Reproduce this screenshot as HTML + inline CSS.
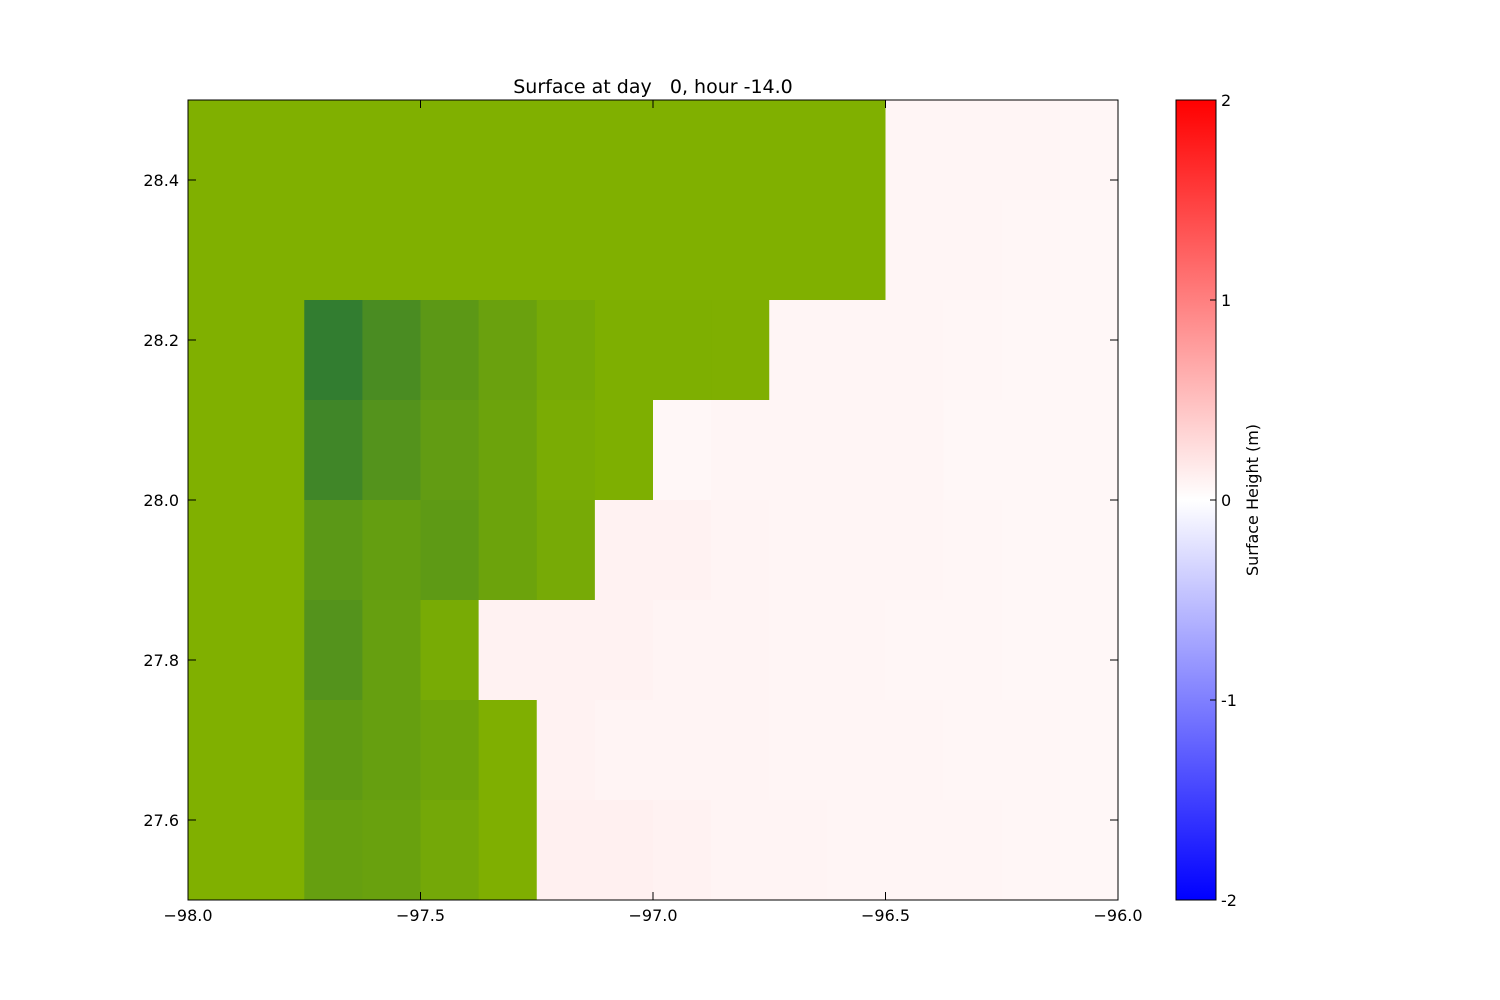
<!DOCTYPE html>
<html><head><meta charset="utf-8"><style>
html,body{margin:0;padding:0;background:#fff;}
svg{display:block;font-family:"DejaVu Sans","Liberation Sans",sans-serif;}
#title{white-space:pre;}
</style></head><body>
<svg id="chart" width="1500" height="1000" viewBox="0 0 1500 1000" xmlns="http://www.w3.org/2000/svg">
<defs>
<linearGradient id="cbgrad" x1="0" y1="1" x2="0" y2="0">
<stop offset="0" stop-color="#0000ff"/><stop offset="0.5" stop-color="#ffffff"/><stop offset="1" stop-color="#ff0000"/>
</linearGradient>
</defs>
<g id="cells"></g>
<rect x="188" y="100" width="930" height="800" fill="none" stroke="#000" stroke-width="1"/>
<g id="axes"></g>
<text id="title" x="653" y="93" font-size="19" text-anchor="middle" xml:space="preserve">Surface at day   0, hour -14.0</text>
<rect x="1176" y="100" width="40" height="800" fill="url(#cbgrad)" stroke="#000" stroke-width="1"/>
<g id="cbticks"></g>
<text transform="translate(1258,500) rotate(-90)" font-size="16" text-anchor="middle">Surface Height (m)</text>
</svg>
<script>
// land shade (0 = light green, 1 = dark green); null = water
const landShade = [
 [0,0,0,0,0,0,0,0,0,0,0,0,null,null,null,null],
 [0,0,0,0,0,0,0,0,0,0,0,0,null,null,null,null],
 [0,0,0.95,0.66,0.44,0.27,0.12,0.02,0.02,0.01,null,null,null,null,null,null],
 [0,0,0.78,0.54,0.37,0.24,0.07,0.02,null,null,null,null,null,null,null,null],
 [0,0,0.45,0.34,0.41,0.24,0.11,null,null,null,null,null,null,null,null,null],
 [0,0,0.54,0.32,0.10,null,null,null,null,null,null,null,null,null,null,null],
 [0,0,0.40,0.32,0.22,0.01,null,null,null,null,null,null,null,null,null,null],
 [0,0,0.32,0.28,0.15,0.01,null,null,null,null,null,null,null,null,null,null]
];
// surface height (m) for water cells
const surfaceHeight = [
 [0,0,0,0,0,0,0,0,0,0,0,0,0.08,0.08,0.08,0.07],
 [0,0,0,0,0,0,0,0,0,0,0,0,0.08,0.08,0.07,0.06],
 [0,0,0,0,0,0,0,0,0,0,0.08,0.08,0.08,0.07,0.06,0.06],
 [0,0,0,0,0,0,0,0,0.06,0.08,0.08,0.08,0.08,0.06,0.06,0.06],
 [0,0,0,0,0,0,0,0.1,0.1,0.09,0.08,0.08,0.08,0.07,0.06,0.06],
 [0,0,0,0,0,0.1,0.1,0.1,0.09,0.09,0.08,0.08,0.07,0.07,0.06,0.06],
 [0,0,0,0,0,0,0.1,0.09,0.09,0.09,0.08,0.08,0.08,0.07,0.07,0.06],
 [0,0,0,0,0,0,0.12,0.12,0.1,0.09,0.09,0.08,0.08,0.08,0.07,0.06]
];
const xTicks = [-98.0,-97.5,-97.0,-96.5,-96.0];
const yTicks = [27.6,27.8,28.0,28.2,28.4];
const cbTicks = [2,1,0,-1,-2];
const xMin=-98, xMax=-96, yMin=27.5, yMax=28.5;
const X0=188,X1=1118,Y0=100,Y1=900;
const sx=v=>X0+(v-xMin)/(xMax-xMin)*(X1-X0);
const sy=v=>Y1-(v-yMin)/(yMax-yMin)*(Y1-Y0);
const NS="http://www.w3.org/2000/svg";
function mk(t,a){const e=document.createElementNS(NS,t);for(const k in a)e.setAttribute(k,a[k]);return e;}
function landColor(d){
  const r=Math.round(128-82*d),g=Math.round(176-54*d),b=Math.round(0+51*d);
  return `rgb(${r},${g},${b})`;
}
function bwr(v){
  const t=Math.max(-2,Math.min(2,v))/2;
  if(t>=0){const c=Math.round(255*(1-t));return `rgb(255,${c},${c})`;}
  const c=Math.round(255*(1+t));return `rgb(${c},${c},255)`;
}
const cells=document.getElementById('cells');
const nR=landShade.length,nC=landShade[0].length;
const dx=(xMax-xMin)/nC, dy=(yMax-yMin)/nR;
for(let r=0;r<nR;r++)for(let c=0;c<nC;c++){
  const lon=xMin+c*dx, latTop=yMax-r*dy;
  const x=sx(lon),y=sy(latTop),w=sx(lon+dx)-x,h=sy(latTop-dy)-y;
  const d=landShade[r][c];
  const fill=d===null?bwr(surfaceHeight[r][c]):landColor(d);
  const el=mk('rect',{x:x,y:y,width:w+0.5,height:h+0.5,fill:fill});
  
  
  cells.appendChild(el);
}
const axes=document.getElementById('axes');
xTicks.forEach(v=>{
  const x=sx(v);
  const t1=mk('line',{x1:x,y1:Y1,x2:x,y2:Y1-8,stroke:'#000'});
  
  
  axes.appendChild(t1);
  const t2=mk('line',{x1:x,y1:Y0,x2:x,y2:Y0+8,stroke:'#000'});
  
  
  axes.appendChild(t2);
  const tx=mk('text',{x:x,y:Y1+21,'font-size':16,'text-anchor':'middle'});
  tx.textContent=v.toFixed(1).replace('-','\u2212');
  
  
  axes.appendChild(tx);
});
yTicks.forEach(v=>{
  const y=sy(v);
  const t1=mk('line',{x1:X0,y1:y,x2:X0+8,y2:y,stroke:'#000'});
  
  
  axes.appendChild(t1);
  const t2=mk('line',{x1:X1,y1:y,x2:X1-8,y2:y,stroke:'#000'});
  
  
  axes.appendChild(t2);
  const tx=mk('text',{x:X0-9,y:y+6,'font-size':16,'text-anchor':'end'});
  tx.textContent=v.toFixed(1);
  
  
  axes.appendChild(tx);
});
const cbt=document.getElementById('cbticks');
cbTicks.forEach(v=>{
  const y=900-(v+2)/4*800;
  const l=mk('line',{x1:1216,y1:y,x2:1210,y2:y,stroke:'#000'});
  
  
  cbt.appendChild(l);
  const tx=mk('text',{x:1221,y:y+6,'font-size':16});
  tx.textContent=String(v);
  
  
  cbt.appendChild(tx);
});
</script>
</body></html>
